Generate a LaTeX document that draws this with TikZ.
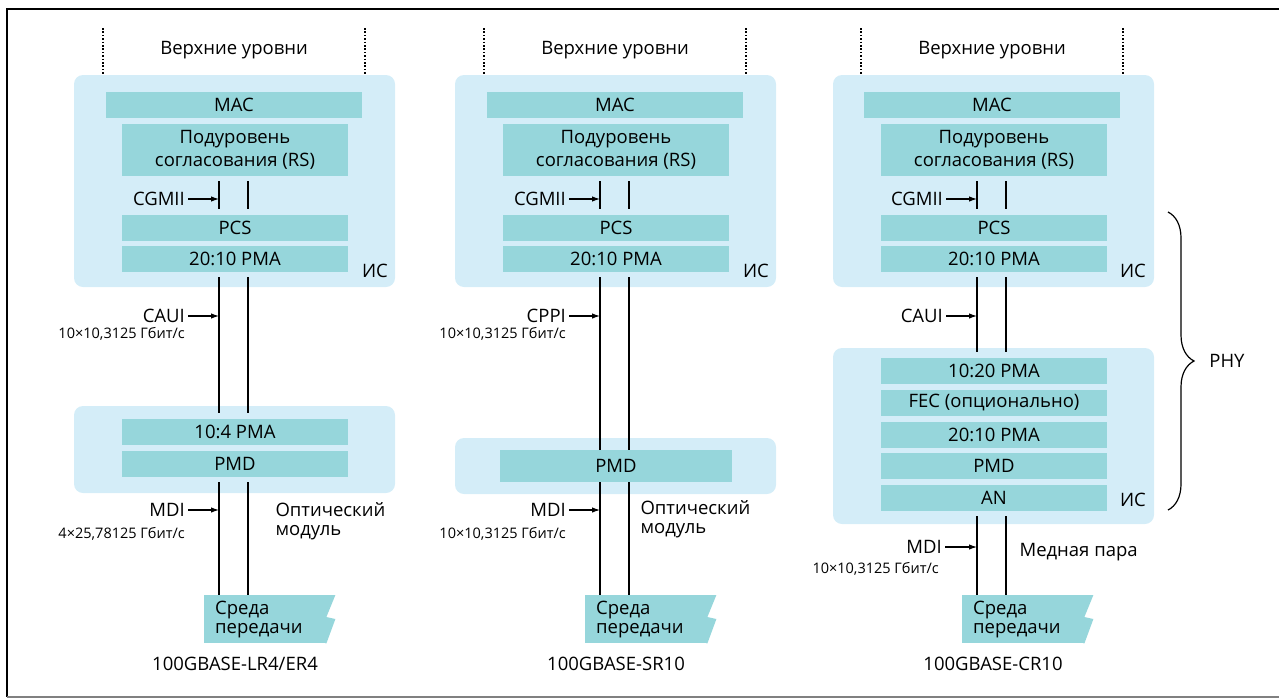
\documentclass[tikz,border=0pt]{standalone}
\usepackage{fontspec}
\setmainfont{Open Sans}
\usetikzlibrary{arrows.meta}
\usetikzlibrary{decorations.pathreplacing}

\definecolor{chipblue}{RGB}{212,237,248}
\definecolor{layerteal}{RGB}{150,214,219}

\begin{document}
\begin{tikzpicture}[x = 1pt, y = -1pt, font = \fontsize{18.5}{21}\selectfont]
	\tikzstyle{chipStyle} = [fill = chipblue, rounded corners = 9pt, inner sep = 0pt]
	\tikzstyle{layerStyle} = [fill = layerteal, minimum width = 226pt, minimum height = 26pt, inner sep = 0pt, align = center]
	\tikzstyle{mediumStyle} = [fill = layerteal, anchor = north west, minimum height = 48pt, text width = 100pt, inner xsep = 11pt, align = left, font = \fontsize{18.5}{19}\selectfont]
	\tikzstyle{labelStyle} = [anchor = east, inner sep = 3pt]
	\tikzstyle{rateStyle} = [anchor = east, inner sep = 3pt, font = \fontsize{14.5}{16}\selectfont]
	\tikzstyle{wireStyle} = [line width = 1.2pt, shorten <= 5pt, shorten >= 6pt]
	\tikzstyle{pointerStyle} = [line width = 1.1pt, -{Latex[length = 8pt, width = 5.5pt]}]
	\tikzstyle{upperStyle} = [line width = 1.3pt, dash pattern = on 1.6pt off 1.8pt]
	\useasboundingbox (0,0) rectangle (1279,699);
	\draw[line width = 1.6pt] (1279,9) -- (7,9) -- (7,697);
	\draw[line width = 1.4pt, gray] (7,697) -- (1279,697);

	\coordinate (a1) at (219,0);
	\coordinate (b1) at (248,0);
	\coordinate (a2) at (600,0);
	\coordinate (b2) at (629,0);
	\coordinate (a3) at (977,0);
	\coordinate (b3) at (1006,0);

	\draw[upperStyle] (103,28) -- (103,90);
	\draw[upperStyle] (365,28) -- (365,90);
	\node (up1) at (234,50) {Верхние уровни};
	\node[chipStyle, minimum width = 321pt, minimum height = 212pt] (ic1) at (234.5,181) {};
	\node[layerStyle, minimum width = 256pt] (mac1) at (234,105) {MAC};
	\node[layerStyle, minimum height = 52pt, font = \fontsize{18.5}{23}\selectfont] (rs1) at (235,150) {Подуровень\\согласования (RS)};
	\node[layerStyle] (pcs1) at (235,228) {PCS};
	\node[layerStyle] (pma1) at (235,259) {20:10 PMA};
	\node (is1) at (375,271) {ИС};
	\node[chipStyle, minimum width = 321pt, minimum height = 87pt] (om1) at (234.5,449.5) {};
	\node[layerStyle] (pmb1) at (235,432) {10:4 PMA};
	\node[layerStyle] (pmd1) at (235,464) {PMD};
	\node[mediumStyle] (med1) at (204,595) {Среда\\передачи};
	\fill[layerteal] ([xshift = -1pt]med1.north east) -- ++(10,0) -- ++(-9,22) -- ++(9,2) -- (med1.south east) -- ++(-1,0) -- cycle;
	\node (base1) at (235,664) {100GBASE-LR4/ER4};
	\node[labelStyle] (cg1) at (188,199) {CGMII};
	\node[labelStyle] (au1) at (188,316) {CAUI};
	\node[rateStyle] (ar1) at (188,334) {10×10,3125 Гбит/с};
	\node[labelStyle] (md1) at (188,510) {MDI};
	\node[rateStyle] (mr1) at (188,534) {4×25,78125 Гбит/с};
	\node[anchor = west, align = left, font = \fontsize{18.5}{19.5}\selectfont] (opt1) at (272,521) {Оптический\\модуль};
	\draw[wireStyle] (rs1.south -| a1) -- (pcs1.north -| a1);
	\draw[wireStyle] (rs1.south -| b1) -- (pcs1.north -| b1);
	\draw[wireStyle] (pma1.south -| a1) -- (pmb1.north -| a1);
	\draw[wireStyle] (pma1.south -| b1) -- (pmb1.north -| b1);
	\draw[wireStyle, shorten >= 0pt] (pmd1.south -| a1) -- (med1.north -| a1);
	\draw[wireStyle, shorten >= 0pt] (pmd1.south -| b1) -- (med1.north -| b1);
	\draw[pointerStyle] (cg1.east) -- (cg1.east -| a1);
	\draw[pointerStyle] (au1.east) -- (au1.east -| a1);
	\draw[pointerStyle] (md1.east) -- (md1.east -| a1);

	\draw[upperStyle] (484,28) -- (484,90);
	\draw[upperStyle] (746,28) -- (746,90);
	\node (up2) at (615,50) {Верхние уровни};
	\node[chipStyle, minimum width = 321pt, minimum height = 212pt] (ic2) at (615.5,181) {};
	\node[layerStyle, minimum width = 256pt] (mac2) at (615,105) {MAC};
	\node[layerStyle, minimum height = 52pt, font = \fontsize{18.5}{23}\selectfont] (rs2) at (616,150) {Подуровень\\согласования (RS)};
	\node[layerStyle] (pcs2) at (616,228) {PCS};
	\node[layerStyle] (pma2) at (616,259) {20:10 PMA};
	\node (is2) at (756,271) {ИС};
	\node[chipStyle, minimum width = 321pt, minimum height = 56pt] (om2) at (615.5,466) {};
	\node[layerStyle, minimum width = 232pt, minimum height = 32pt] (pmd2) at (616,466) {PMD};
	\node[mediumStyle] (med2) at (585,595) {Среда\\передачи};
	\fill[layerteal] ([xshift = -1pt]med2.north east) -- ++(10,0) -- ++(-9,22) -- ++(9,2) -- (med2.south east) -- ++(-1,0) -- cycle;
	\node (base2) at (616,664) {100GBASE-SR10};
	\node[labelStyle] (cg2) at (569,199) {CGMII};
	\node[labelStyle] (au2) at (569,316) {CPPI};
	\node[rateStyle] (ar2) at (569,334) {10×10,3125 Гбит/с};
	\node[labelStyle] (md2) at (569,510) {MDI};
	\node[rateStyle] (mr2) at (569,534) {10×10,3125 Гбит/с};
	\node[anchor = west, align = left, font = \fontsize{18.5}{19.5}\selectfont] (opt2) at (637,519) {Оптический\\модуль};
	\draw[wireStyle] (rs2.south -| a2) -- (pcs2.north -| a2);
	\draw[wireStyle] (rs2.south -| b2) -- (pcs2.north -| b2);
	\draw[wireStyle, shorten >= 0pt] (pma2.south -| a2) -- (pmd2.north -| a2);
	\draw[wireStyle, shorten >= 0pt] (pma2.south -| b2) -- (pmd2.north -| b2);
	\draw[wireStyle, shorten <= 0pt, shorten >= 0pt] (pmd2.south -| a2) -- (med2.north -| a2);
	\draw[wireStyle, shorten <= 0pt, shorten >= 0pt] (pmd2.south -| b2) -- (med2.north -| b2);
	\draw[pointerStyle] (cg2.east) -- (cg2.east -| a2);
	\draw[pointerStyle] (au2.east) -- (au2.east -| a2);
	\draw[pointerStyle] (md2.east) -- (md2.east -| a2);

	\draw[upperStyle] (861,28) -- (861,90);
	\draw[upperStyle] (1123,28) -- (1123,90);
	\node (up3) at (992,50) {Верхние уровни};
	\node[chipStyle, minimum width = 321pt, minimum height = 212pt] (ic3) at (993.5,181) {};
	\node[layerStyle, minimum width = 256pt] (mac3) at (992,105) {MAC};
	\node[layerStyle, minimum height = 52pt, font = \fontsize{18.5}{23}\selectfont] (rs3) at (994,150) {Подуровень\\согласования (RS)};
	\node[layerStyle] (pcs3) at (994,228) {PCS};
	\node[layerStyle] (pma3) at (994,259) {20:10 PMA};
	\node (is3) at (1133,271) {ИС};
	\node[chipStyle, minimum width = 321pt, minimum height = 176pt] (ic4) at (993.5,436) {};
	\node[layerStyle] (pmc3) at (994,371) {10:20 PMA};
	\node[layerStyle] (fec3) at (994,403) {FEC (опционально)};
	\node[layerStyle] (pmb3) at (994,435) {20:10 PMA};
	\node[layerStyle] (pmd3) at (994,466) {PMD};
	\node[layerStyle] (an3) at (994,498) {AN};
	\node (is4) at (1133,500) {ИС};
	\node[mediumStyle] (med3) at (962,595) {Среда\\передачи};
	\fill[layerteal] ([xshift = -1pt]med3.north east) -- ++(10,0) -- ++(-9,22) -- ++(9,2) -- (med3.south east) -- ++(-1,0) -- cycle;
	\node (base3) at (993,664) {100GBASE-CR10};
	\node[labelStyle] (cg3) at (946,199) {CGMII};
	\node[labelStyle] (au3) at (946,316) {CAUI};
	\node[labelStyle] (md3) at (945,547) {MDI};
	\node[rateStyle] (mr3) at (942,569) {10×10,3125 Гбит/с};
	\node[anchor = west] (cu3) at (1016,552) {Медная пара};
	\draw[wireStyle] (rs3.south -| a3) -- (pcs3.north -| a3);
	\draw[wireStyle] (rs3.south -| b3) -- (pcs3.north -| b3);
	\draw[wireStyle] (pma3.south -| a3) -- (pmc3.north -| a3);
	\draw[wireStyle] (pma3.south -| b3) -- (pmc3.north -| b3);
	\draw[wireStyle, shorten >= 0pt] (an3.south -| a3) -- (med3.north -| a3);
	\draw[wireStyle, shorten >= 0pt] (an3.south -| b3) -- (med3.north -| b3);
	\draw[pointerStyle] (cg3.east) -- (cg3.east -| a3);
	\draw[pointerStyle] (au3.east) -- (au3.east -| a3);
	\draw[pointerStyle] (md3.east) -- (md3.east -| a3);

	\draw[line width = 1.2pt, decorate, decoration = {brace, amplitude = 26pt}] (1168,212) -- (1168,510);
	\node (phy) at (1227,361) {PHY};
\end{tikzpicture}
\end{document}
